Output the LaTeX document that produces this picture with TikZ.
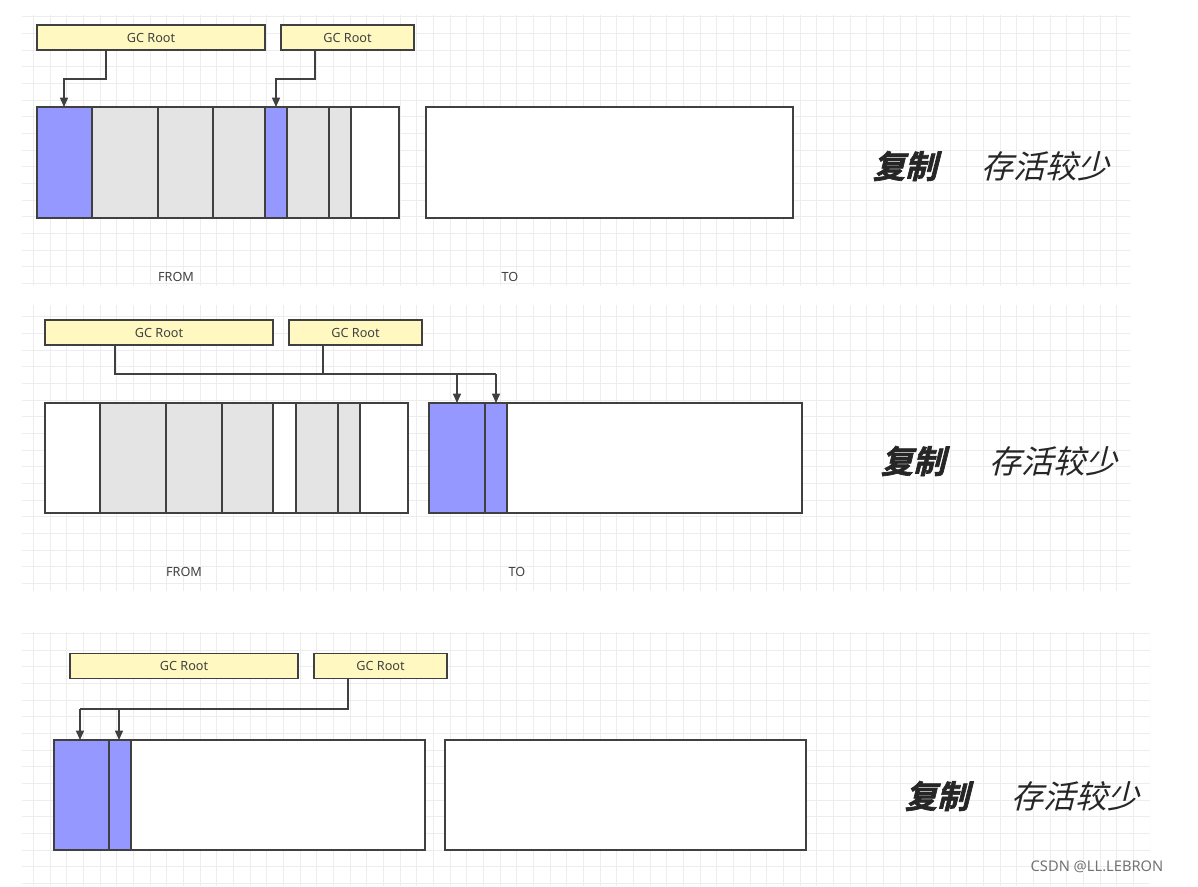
\documentclass[tikz,border=0pt]{standalone}
\usepackage{fontspec}
\setmainfont{Noto Sans}
\newfontfamily\cjkit[FakeSlant=0.25]{Noto Sans CJK SC}
\newfontfamily\cjkbf[FakeSlant=0.25,FakeBold=2]{Noto Sans CJK SC Bold}
\usetikzlibrary{arrows.meta}
\definecolor{rootfill}{HTML}{FFF8C0}
\definecolor{livefill}{HTML}{9599FF}
\definecolor{deadfill}{HTML}{E4E4E4}
\definecolor{linecol}{HTML}{404040}
\tikzset{
  root/.style={draw=linecol,fill=rootfill,line width=1.2pt,inner sep=0pt,
               font=\fontsize{9.5}{10}\selectfont,text=linecol},
  cell/.style={draw=linecol,line width=1.2pt},
  ref/.style={draw=linecol,line width=1pt,-{Triangle[length=7pt,width=6pt]}},
  wire/.style={draw=linecol,line width=1pt},
  label/.style={font=\fontsize{9.5}{10}\selectfont,text=linecol},
  title/.style={font=\fontsize{24}{26}\selectfont,text=black!85},
  paper/.style={draw=black!7,line width=0.4pt}
}
% one block of cells: \cellrow{y-top}{y-bottom}{x0/x1/colour,...}
\newcommand\cellrow[3]{%
  \foreach \a/\b/\c in {#3} \path[cell,fill=\c] (\a,#1) rectangle (\b,#2);}
\begin{document}
\begin{tikzpicture}[x=0.75pt,y=-0.75pt]
  \useasboundingbox (0,0) rectangle (1198,886);
  % grid paper behind each panel
  \begin{scope}
    \clip (22,15) rectangle (1130,285);
    \draw[paper,step=12.5pt] (0,0) grid (1198,886);
  \end{scope}
  \begin{scope}
    \clip (22,305) rectangle (1130,590);
    \draw[paper,step=12.5pt] (0,0) grid (1198,886);
  \end{scope}
  \begin{scope}
    \clip (22,632) rectangle (1150,885);
    \draw[paper,step=12.5pt] (0,0) grid (1198,886);
  \end{scope}

  % panel 1
  \node[root,minimum width=171pt,minimum height=19pt] (r1a) at (151,37.5) {GC Root};
  \node[root,minimum width=100pt,minimum height=19pt] (r1b) at (347.5,37.5) {GC Root};
  \cellrow{107}{218}{37/92/livefill,92/158/deadfill,158/213/deadfill,213/265/deadfill,
    265/287/livefill,287/329/deadfill,329/351/deadfill,351/399/white}
  \path[cell,fill=white] (426,107) rectangle (793,218);
  \coordinate (t1a) at (64,107);
  \coordinate (t1b) at (276,107);
  \draw[ref] (r1a.south -| 106,0) |- (64,79) -- (t1a);
  \draw[ref] (r1b.south -| 315,0) |- (276,79) -- (t1b);
  \node[label] (f1) at (176,277) {FROM};
  \node[label] (to1) at (510,277) {TO};
  \node[title] (c1) at (905,166) {\cjkbf 复制};
  \node[title] (s1) at (1045,166) {\cjkit 存活较少};

  % panel 2
  \node[root,minimum width=171pt,minimum height=19pt] (r2a) at (159,332.5) {GC Root};
  \node[root,minimum width=100pt,minimum height=19pt] (r2b) at (355.5,332.5) {GC Root};
  \cellrow{403}{513}{45/100/white,100/166/deadfill,166/222/deadfill,222/273/deadfill,
    273/296/white,296/338/deadfill,338/360/deadfill,360/408/white}
  \cellrow{403}{513}{429/802/white,429/485/livefill,485/507/livefill}
  \coordinate (j2) at (496,374);
  \draw[wire] (r2a.south -| 115,0) |- (j2);
  \draw[wire] (r2b.south -| 323,0) -- (323,374);
  \draw[ref] (457,374) -- (457,403);
  \draw[ref] (j2) -- (496,403);
  \node[label] (f2) at (184,572) {FROM};
  \node[label] (to2) at (517,572) {TO};
  \node[title] (c2) at (913,461) {\cjkbf 复制};
  \node[title] (s2) at (1053,461) {\cjkit 存活较少};

  % panel 3
  \node[root,minimum width=171pt,minimum height=19pt] (r3a) at (184,666) {GC Root};
  \node[root,minimum width=100pt,minimum height=19pt] (r3b) at (380.5,666) {GC Root};
  \cellrow{740}{850}{54/425/white,54/109/livefill,109/131/livefill}
  \path[cell,fill=white] (445,740) rectangle (806,850);
  \coordinate (j3) at (80,709);
  \draw[wire] (r3b.south -| 348,0) |- (j3);
  \draw[ref] (j3) -- (80,740);
  \draw[ref] (119,709) -- (119,740);
  \node[title] (c3) at (937,796) {\cjkbf 复制};
  \node[title] (s3) at (1075,796) {\cjkit 存活较少};

  \node[font=\fontsize{11}{12}\selectfont,text=black!55] (mark) at (1097,867) {CSDN @LL.LEBRON};
\end{tikzpicture}
\end{document}
